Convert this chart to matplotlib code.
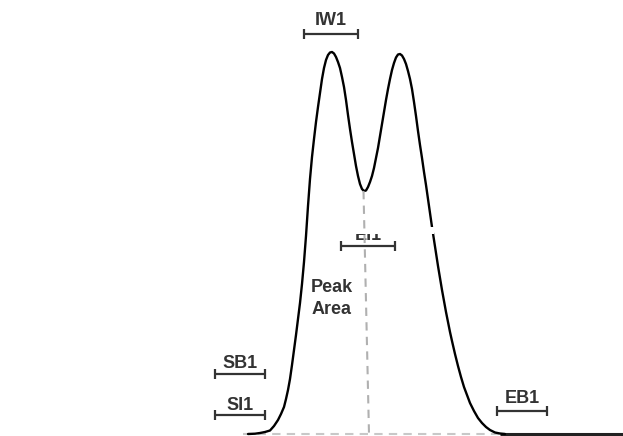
import matplotlib
matplotlib.use("Agg")
import matplotlib.pyplot as plt
from matplotlib.patches import Rectangle

plt.rcParams['font.family'] = ['Liberation Sans', 'DejaVu Sans']

# Detector trace: time (x) and height above baseline
time = [248, 255, 260, 265, 270, 274, 278, 281, 284, 286, 288, 290, 292,
        294, 296, 298, 300, 302, 304, 306, 308, 310, 312, 314, 316, 318,
        320, 322, 324, 326, 328, 330, 332, 334, 336, 338, 340, 342, 344,
        346, 348, 350, 352, 354, 356, 358, 360, 362, 364, 366, 368, 370,
        372, 374, 376, 378, 380, 382, 384, 386, 388, 390, 392, 394, 396,
        398, 400, 402, 404, 406, 408, 410, 412, 414, 416, 418, 420, 422,
        424, 426, 428, 430, 432, 434, 436, 438, 440, 442, 444, 446, 448,
        450, 452, 455, 458, 461, 464, 467, 470, 474, 478, 482, 486, 490,
        495, 500, 505]
signal = [0, 0.3, 1, 2, 3.5, 8, 14, 20, 27, 35, 44, 55, 69,
          84, 99, 115, 131, 150, 172, 198, 228, 255, 277, 295, 312, 327,
          341, 355, 366, 374, 379, 381.5, 382, 380.5, 377, 372, 366, 357, 347,
          334, 319, 305, 292, 280, 268, 258, 250, 245, 243, 243.5, 247, 252,
          258, 266, 276, 286, 298, 310, 322, 334, 345, 355, 364, 371, 376.5,
          379.5, 380, 378.5, 375, 370, 363, 355, 345, 332, 318, 303, 289, 276,
          262, 249, 235, 221, 207, 194, 181, 168, 156, 144, 133, 122, 112,
          102, 93, 80, 68, 57, 47, 39, 31, 23, 16, 11, 7, 4,
          1.5, 0.5, 0]

# Integration window markers: label, centre, half-width, bar height
marker_names = ["IW1", "EI1", "SB1", "SI1", "EB1"]
marker_centres = [331, 368, 240, 240, 522]
marker_halfwidths = [27, 27, 25, 25, 25]
marker_levels = [400, 188, 60, 19, 23]
label_levels = [413, 199, 71, 29, 36]

# Valley drop line and baseline segments
valley_drop_x = [363.5, 369]
valley_drop_y = [243, 0]
dashed_base_x = [243, 500]
solid_base_x = [500, 623]

fig = plt.figure(figsize=(6.23, 4.36), dpi=100)
ax = fig.add_axes([0, 0, 1, 1])
ax.set_xlim(0, 623)
ax.set_ylim(-2, 434)
ax.axis('off')

ink = '#333333'

ax.plot(dashed_base_x, [0, 0], color='#c8c8c8', lw=1.5, ls=(0, (4, 3)), zorder=1)
ax.plot(solid_base_x, [0, 0], color='#222222', lw=2.2, zorder=2,
        solid_capstyle='butt')
ax.plot(time, signal, color='black', lw=1.7, zorder=3,
        solid_joinstyle='round', solid_capstyle='round')

for name, cx, hw, lv, tl in zip(marker_names, marker_centres,
                                marker_halfwidths, marker_levels, label_levels):
    ax.errorbar([cx], [lv], xerr=[hw], fmt='none', ecolor=ink,
                elinewidth=1.6, capsize=3.8, capthick=1.6, zorder=4)
    ax.text(cx, tl, name, ha='center', va='center', fontsize=13,
            fontweight='bold', color=ink, zorder=4)

# white strip that hides the top of the EI1 label and a bit of the trace
ax.add_patch(Rectangle((342, 200), 92, 6.5, facecolor='white',
                       edgecolor='none', zorder=5))

ax.plot(valley_drop_x, valley_drop_y, color='#b0b0b0', lw=1.5,
        ls=(0, (4, 3)), zorder=6)

ax.text(332, 146, "Peak", ha='center', va='center', fontsize=13,
        fontweight='bold', color=ink, zorder=4)
ax.text(332, 124, "Area", ha='center', va='center', fontsize=13,
        fontweight='bold', color=ink, zorder=4)

fig.savefig("out.png", dpi=100, facecolor='white')
